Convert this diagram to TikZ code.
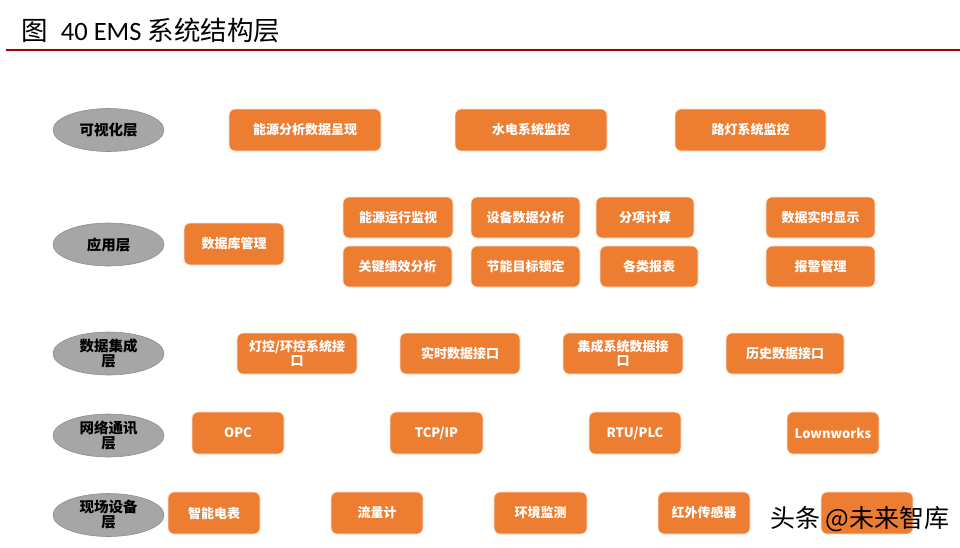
\documentclass[tikz,border=0pt]{standalone}
\usepackage{fontspec}
\setmainfont{Noto Sans CJK SC}
\newfontfamily\latinfont{Carlito}
\usetikzlibrary{shapes.geometric}

\definecolor{boxorange}{HTML}{ED7D31}
\definecolor{layergray}{HTML}{A6A6A6}
\definecolor{layeredge}{HTML}{8E8E8E}
\definecolor{titlered}{HTML}{A00000}

\begin{document}
\begin{tikzpicture}[
  x=1pt,
  y=-1pt,
  layer/.style={ellipse, draw=layeredge, line width=0.6pt, fill=layergray, minimum width=111pt, minimum height=43pt, inner sep=0pt, align=center, font=\fontsize{14.5}{15}\selectfont\bfseries, text=black},
  item/.style={draw=white!80!boxorange, line width=0.8pt, fill=boxorange, rounded corners=6pt, minimum height=42pt, inner sep=2pt, align=center, font=\fontsize{13}{14}\selectfont\bfseries, text=white}
]
  \useasboundingbox (0,0) rectangle (960,547);

  % title
  \node[anchor=west, font=\fontsize{26.5}{28}\selectfont, inner sep=0pt] (title) at (21,30) {图\hspace{0.5em}{\latinfont\fontsize{26.5}{28}\selectfont 40 EMS} 系统结构层};
  \coordinate (ruleL) at (6,50);
  \coordinate (ruleR) at (960,50);
  \draw[titlered, line width=2pt] (ruleL) -- (ruleR);

  % layers
  \node[layer] (vis) at (108.5,130) {可视化层};
  \node[layer] (app) at (108.5,244.5) {应用层};
  \node[layer] (data) at (108.5,353.5) {数据集成\\层};
  \node[layer] (net) at (108.5,435.5) {网络通讯\\层};
  \node[layer] (field) at (108.5,515) {现场设备\\层};

  % visualisation layer
  \node[item, minimum width=152pt] (v1) at (305,130) {能源分析数据呈现};
  \node[item, minimum width=152pt] (v2) at (531,130) {水电系统监控};
  \node[item, minimum width=151pt] (v3) at (750.5,130) {路灯系统监控};

  % application layer
  \node[item, minimum width=100pt] (a0) at (234,244) {数据库管理};
  \node[item, minimum width=110pt, minimum height=41pt] (a1) at (398,217.5) {能源运行监视};
  \node[item, minimum width=109pt, minimum height=41pt] (a2) at (525.5,217.5) {设备数据分析};
  \node[item, minimum width=98pt, minimum height=41pt] (a3) at (645,217.5) {分项计算};
  \node[item, minimum width=109pt, minimum height=41pt] (a4) at (820.5,217.5) {数据实时显示};
  \node[item, minimum width=109pt, minimum height=41pt] (a5) at (397.5,266.5) {关键绩效分析};
  \node[item, minimum width=109pt, minimum height=41pt] (a6) at (525.5,266.5) {节能目标锁定};
  \node[item, minimum width=98pt, minimum height=41pt] (a7) at (649,266.5) {各类报表};
  \node[item, minimum width=109pt, minimum height=41pt] (a8) at (820.5,266.5) {报警管理};

  % data integration layer
  \node[item, minimum width=120pt, minimum height=41pt] (d1) at (297,353.5) {灯控/环控系统接\\口};
  \node[item, minimum width=120pt, minimum height=41pt] (d2) at (460,353.5) {实时数据接口};
  \node[item, minimum width=120pt, minimum height=41pt] (d3) at (623,353.5) {集成系统数据接\\口};
  \node[item, minimum width=118pt, minimum height=41pt] (d4) at (785,353.5) {历史数据接口};

  % network layer
  \node[item, minimum width=92pt] (n1) at (238,433) {OPC};
  \node[item, minimum width=93pt] (n2) at (436.5,433) {TCP/IP};
  \node[item, minimum width=92pt] (n3) at (635,433) {RTU/PLC};
  \node[item, minimum width=92pt] (n4) at (833,433) {Lownworks};

  % field device layer
  \node[item, minimum width=92pt] (f1) at (214,513) {智能电表};
  \node[item, minimum width=92pt] (f2) at (377,513) {流量计};
  \node[item, minimum width=93pt] (f3) at (540.5,513) {环境监测};
  \node[item, minimum width=92pt] (f4) at (704,513) {红外传感器};
  \node[item, minimum width=92pt] (f5) at (867,513) {};

  % watermark
  \node[anchor=west, font=\fontsize{25}{26}\selectfont, inner sep=0pt] (mark) at (770,519.5) {头条 @未来智库};
\end{tikzpicture}
\end{document}
